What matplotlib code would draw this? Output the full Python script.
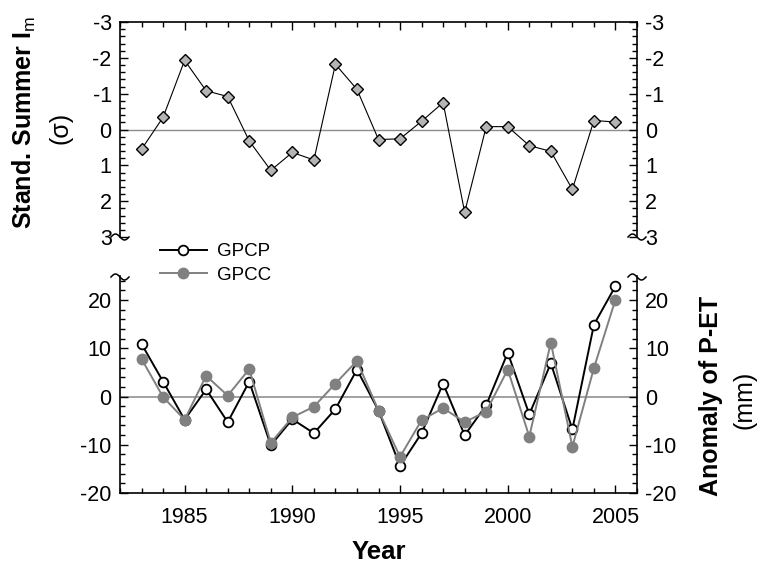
import numpy as np
import matplotlib
matplotlib.use("Agg")
import matplotlib.pyplot as plt
from matplotlib.ticker import MultipleLocator
from matplotlib.lines import Line2D

plt.rcParams.update(
    {
        "font.family": "Liberation Sans",
        "mathtext.fontset": "custom",
        "mathtext.rm": "Liberation Sans",
        "axes.unicode_minus": False,
        "font.size": 15,
    }
)

# Data
years = list(range(1983, 2006))
im_std = [0.55, -0.34, -1.93, -1.08, -0.92, 0.32, 1.14, 0.64, 0.85, -1.82, -1.12,
          0.28, 0.26, -0.23, -0.75, 2.31, -0.08, -0.08, 0.45, 0.61, 1.67, -0.25, -0.21]
gpcp = [10.9, 3.1, -4.8, 1.5, -5.3, 3.1, -10.1, -4.7, -7.6, -2.6, 5.6,
        -2.9, -14.4, -7.6, 2.7, -8.0, -1.8, 9.1, -3.7, 6.9, -6.8, 14.9, 22.9]
gpcc = [7.8, -0.1, -4.8, 4.3, 0.2, 5.7, -9.6, -4.3, -2.1, 2.7, 7.4,
        -2.9, -12.5, -4.9, -2.4, -5.3, -3.1, 5.6, -8.3, 11.2, -10.4, 5.9, 20.1]

W, H = 760, 565
fig = plt.figure(figsize=(W / 100, H / 100), dpi=100)

left, right = 120, 637
ax_top = fig.add_axes([left / W, 1 - 237 / H, (right - left) / W, (237 - 22) / H])
ax_bot = fig.add_axes([left / W, 1 - 493 / H, (right - left) / W, (493 - 276) / H])

spine_lw = 1.2

# Top panel: standardized summer Im (inverted axis)
ax_top.axhline(0, color="#8c8c8c", lw=1.0, zorder=1)
ax_top.plot(years, im_std, color="black", lw=0.8, marker="D", markersize=6.3,
            markerfacecolor="#b4b4b4", markeredgecolor="black", markeredgewidth=1.0,
            zorder=3)
ax_top.set_xlim(1982, 2006)
ax_top.set_ylim(3, -3)
ax_top.yaxis.set_major_locator(MultipleLocator(1))
ax_top.yaxis.set_minor_locator(MultipleLocator(0.2))
ax_top.xaxis.set_major_locator(MultipleLocator(5))
ax_top.xaxis.set_minor_locator(MultipleLocator(1))
ax_top.spines["bottom"].set_visible(False)
ax_top.tick_params(axis="x", which="both", bottom=False, top=True, labelbottom=False,
                   labeltop=False, direction="in")
ax_top.tick_params(axis="y", which="both", left=True, right=True, labelleft=True,
                   labelright=True, direction="in")

# Bottom panel: P-ET anomaly
ax_bot.axhline(0, color="#9a9a9a", lw=1.3, zorder=1)
ax_bot.plot(years, gpcp, color="black", lw=1.4, marker="o", markersize=7,
            markerfacecolor="white", markeredgecolor="black", markeredgewidth=1.3,
            label="GPCP", zorder=3)
ax_bot.plot(years, gpcc, color="#808080", lw=1.4, marker="o", markersize=7.5,
            markerfacecolor="#808080", markeredgecolor="#808080",
            label="GPCC", zorder=4)
ax_bot.set_xlim(1982, 2006)
ax_bot.set_ylim(-20, 25)
ax_bot.yaxis.set_major_locator(MultipleLocator(10))
ax_bot.yaxis.set_minor_locator(MultipleLocator(2))
ax_bot.xaxis.set_major_locator(MultipleLocator(5))
ax_bot.xaxis.set_minor_locator(MultipleLocator(1))
ax_bot.spines["top"].set_visible(False)
ax_bot.tick_params(axis="x", which="both", bottom=True, top=False, direction="in")
ax_bot.tick_params(axis="y", which="both", left=True, right=True, labelleft=True,
                   labelright=True, direction="in")
ax_bot.set_xlabel("Year", fontsize=18.5, fontweight="bold", labelpad=9)

for ax in (ax_top, ax_bot):
    for sp in ax.spines.values():
        sp.set_linewidth(spine_lw)
    ax.tick_params(which="major", length=6, width=1.0, labelsize=15.5, pad=6)
    ax.tick_params(which="minor", length=3.5, width=1.0)
ax_bot.tick_params(axis="x", which="major", pad=10)

# Break marks on the spines
def squiggle(xpix, ypix):
    t = np.linspace(-1, 1, 30)
    xs = (xpix + 9 * t) / W
    ys = 1 - (ypix + 3 * np.sin(np.pi * t)) / H
    fig.add_artist(Line2D(xs, ys, transform=fig.transFigure, color="black", lw=1.1))

for xp in (left, right):
    squiggle(xp, 237)
    squiggle(xp, 277)

# Legend between the panels
fig.legend(loc="upper left", bbox_to_anchor=(160 / W, 1 - 243 / H), frameon=False,
           fontsize=13.5, handlelength=2.5, handletextpad=0.55, labelspacing=0.35,
           borderpad=0, borderaxespad=0)

# Axis labels
fig.text(24 / W, 1 - 122 / H, r"Stand. Summer I$_{\mathrm{m}}$", rotation=90,
         fontsize=18, fontweight="bold", ha="center", va="center")
fig.text(60 / W, 1 - 128 / H, "(σ)", rotation=90, fontsize=18,
         ha="center", va="center")
fig.text(711 / W, 1 - 396 / H, "Anomaly of P-ET", rotation=90, fontsize=18,
         fontweight="bold", ha="center", va="center")
fig.text(744 / W, 1 - 400 / H, "(mm)", rotation=90, fontsize=18,
         ha="center", va="center")

fig.savefig("out.png", dpi=100)
